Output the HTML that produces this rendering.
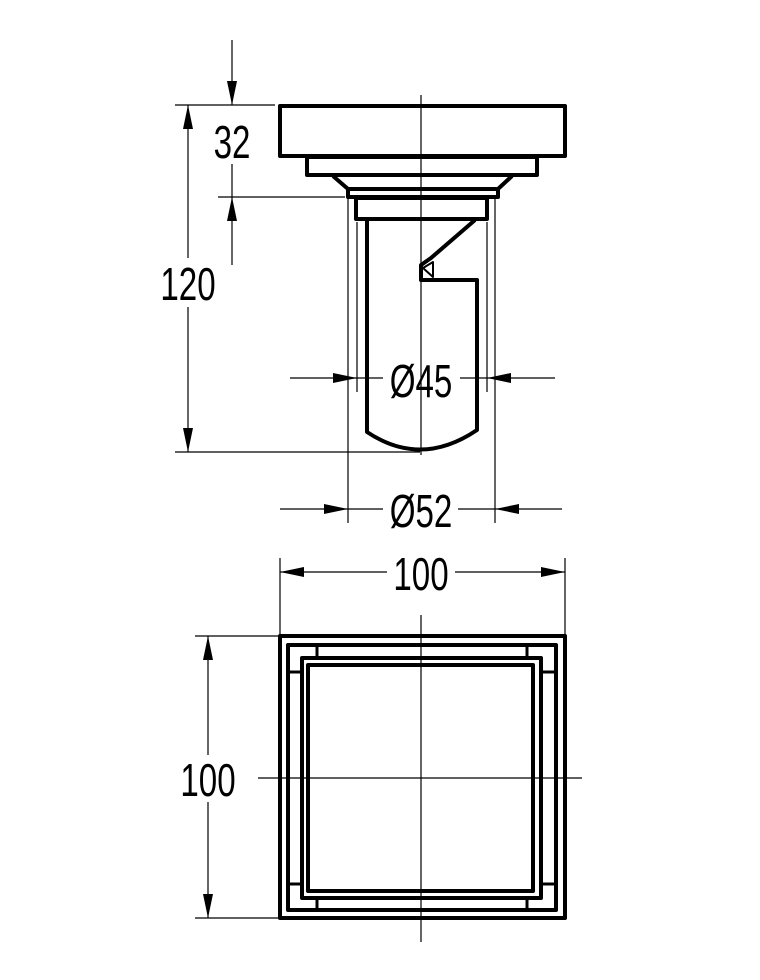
<!DOCTYPE html>
<html><head><style>html,body{margin:0;padding:0;background:#fff}svg{display:block}text{font-family:"Liberation Sans",sans-serif;font-size:46px;fill:#000}</style></head><body>
<svg width="760" height="980" viewBox="0 0 760 980" xmlns="http://www.w3.org/2000/svg">
<defs>
<marker id="a" viewBox="0 0 24 10" refX="24" refY="5" markerWidth="24" markerHeight="10" markerUnits="userSpaceOnUse" orient="auto"><path d="M0,0 L24,5 L0,10 z" fill="#000"/></marker>
</defs>
<g stroke="#000" fill="none" stroke-width="1.2">
<line x1="421" y1="95" x2="421" y2="455"/>
<line x1="421" y1="615" x2="421" y2="942"/>
<line x1="258" y1="778" x2="582" y2="778"/>
<line x1="175" y1="105" x2="275" y2="105"/>
<line x1="218" y1="197" x2="345" y2="197"/>
<line x1="175" y1="452" x2="420" y2="452"/>
<line x1="348" y1="196" x2="348" y2="523"/>
<line x1="495" y1="196" x2="495" y2="523"/>
<line x1="357" y1="222" x2="357" y2="392"/>
<line x1="487" y1="222" x2="487" y2="392"/>
<line x1="280" y1="558" x2="280" y2="636"/>
<line x1="565" y1="558" x2="565" y2="636"/>
<line x1="195" y1="636" x2="280" y2="636"/>
<line x1="195" y1="918" x2="280" y2="918"/>
<line x1="232" y1="40" x2="232" y2="105" marker-end="url(#a)"/>
<line x1="232" y1="265" x2="232" y2="197" marker-end="url(#a)"/>
<line x1="232" y1="164" x2="232" y2="197"/>
<line x1="188" y1="258" x2="188" y2="105" marker-end="url(#a)"/>
<line x1="188" y1="307" x2="188" y2="452" marker-end="url(#a)"/>
<line x1="290" y1="378" x2="357" y2="378" marker-end="url(#a)"/>
<line x1="357" y1="378" x2="383" y2="378"/>
<line x1="555" y1="378" x2="487" y2="378" marker-end="url(#a)"/>
<line x1="487" y1="378" x2="460" y2="378"/>
<line x1="280" y1="509" x2="348" y2="509" marker-end="url(#a)"/>
<line x1="348" y1="509" x2="383" y2="509"/>
<line x1="562" y1="509" x2="495" y2="509" marker-end="url(#a)"/>
<line x1="495" y1="509" x2="458" y2="509"/>
<line x1="387" y1="572" x2="280" y2="572" marker-end="url(#a)"/>
<line x1="455" y1="572" x2="565" y2="572" marker-end="url(#a)"/>
<line x1="208" y1="755" x2="208" y2="636" marker-end="url(#a)"/>
<line x1="208" y1="802" x2="208" y2="918" marker-end="url(#a)"/>
</g>
<g stroke="#000" fill="none" stroke-width="4" stroke-linejoin="round">
<rect x="280" y="106" width="285" height="50"/>
<rect x="307" y="157" width="230" height="18"/>
<path d="M333,176 L348,189 L498,189 L512,176"/>
<rect x="348" y="189" width="150" height="8"/>
<rect x="356" y="198" width="131" height="21"/>
<path d="M367,220 L367,432 Q421,468 477,430 L477,280 L421,280 L421,265 L431,258 L475,220"/>
<path d="M423,268 L433,262 L433,277 Z" stroke-width="2"/>
<rect x="280" y="636" width="285" height="282"/>
<rect x="288" y="645" width="268" height="265"/>
<rect x="302" y="658" width="239" height="240"/>
<rect x="308" y="665" width="225" height="226"/>
<path d="M317,645 V658 M527,645 V658 M288,672 H302 M541,672 H556 M317,910 V898 M527,910 V898 M288,884 H302 M541,884 H556" stroke-width="3"/>
</g>
<g>
<text x="232" y="158" text-anchor="middle" transform="translate(232 0) scale(0.72 1) translate(-232 0)">32</text>
<text x="188" y="300" text-anchor="middle" transform="translate(188 0) scale(0.72 1) translate(-188 0)">120</text>
<text x="421" y="397" text-anchor="middle" transform="translate(421 0) scale(0.72 1) translate(-421 0)">Ø45</text>
<text x="421" y="527" text-anchor="middle" transform="translate(421 0) scale(0.72 1) translate(-421 0)">Ø52</text>
<text x="421" y="590" text-anchor="middle" transform="translate(421 0) scale(0.72 1) translate(-421 0)">100</text>
<text x="208" y="796" text-anchor="middle" transform="translate(208 0) scale(0.72 1) translate(-208 0)">100</text>
</g>
</svg>
</body></html>
